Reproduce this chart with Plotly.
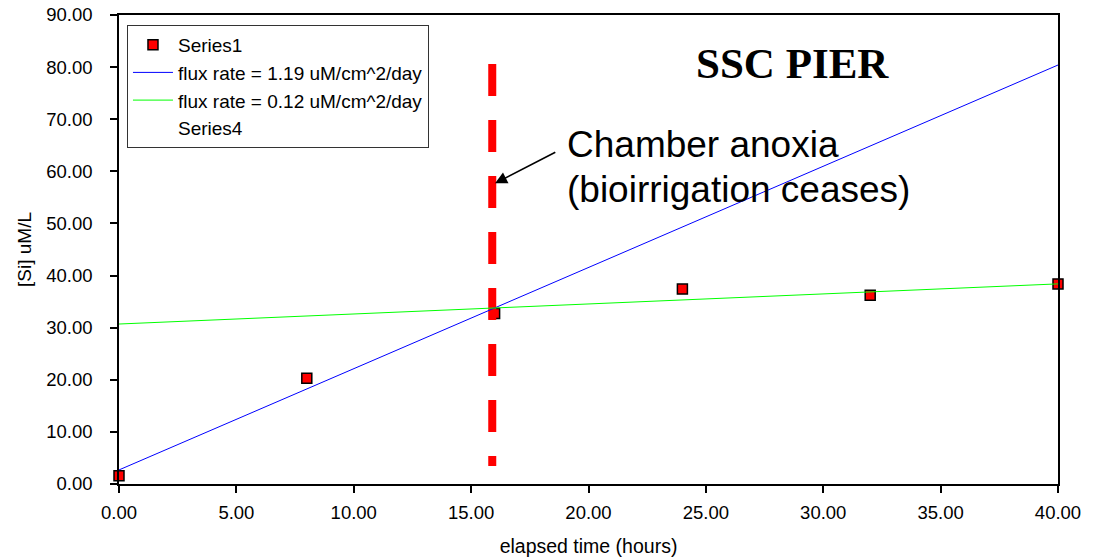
import plotly.graph_objects as go

# Data
time_h = [0, 8, 16, 24, 32, 40]
si_um = [1.6, 20.3, 32.7, 37.4, 36.2, 38.4]

fit1_x = [0, 40]
fit1_y = [2.7, 80.4]
fit2_x = [0, 40]
fit2_y = [30.7, 38.4]

anoxia_x = [15.9, 15.9]
anoxia_y = [80.6, 3.45]

x_ticks = [0, 5, 10, 15, 20, 25, 30, 35, 40]
y_ticks = [0, 10, 20, 30, 40, 50, 60, 70, 80, 90]

FONT = "Liberation Sans, Arial, sans-serif"

fig = go.Figure()

fig.add_trace(go.Scatter(
    x=time_h, y=si_um, mode="markers", name="Series1",
    marker=dict(symbol="square", size=10, color="#FF0000",
                line=dict(color="black", width=1.5)),
    cliponaxis=False, legendrank=1))

fig.add_trace(go.Scatter(
    x=anoxia_x, y=anoxia_y, mode="lines", showlegend=False,
    line=dict(color="#FF0000", width=8, dash="32px,24px"),
    hoverinfo="skip"))

fig.add_trace(go.Scatter(
    x=fit1_x, y=fit1_y, mode="lines", name="flux rate = 1.19 uM/cm^2/day",
    line=dict(color="#0000FF", width=1), legendrank=2))

fig.add_trace(go.Scatter(
    x=fit2_x, y=fit2_y, mode="lines", name="flux rate = 0.12 uM/cm^2/day",
    line=dict(color="#00FF00", width=1), legendrank=3))

fig.add_trace(go.Scatter(
    x=[None], y=[None], mode="markers", name="Series4",
    marker=dict(color="rgba(0,0,0,0)", size=1), legendrank=4))

fig.update_layout(
    width=1097, height=557,
    margin=dict(l=119, r=39, t=15, b=73),
    paper_bgcolor="white", plot_bgcolor="white",
    font=dict(family=FONT, size=18, color="black"),
    showlegend=True,
    legend=dict(
        x=0.0085, y=0.979, xanchor="left", yanchor="top",
        bordercolor="#333333", borderwidth=1, bgcolor="white",
        font=dict(family=FONT, size=19, color="black"),
        itemwidth=40, tracegroupgap=0),
    xaxis=dict(
        range=[0, 40], tickvals=x_ticks,
        ticktext=[f"{v:.2f}" for v in x_ticks],
        showgrid=False, zeroline=False, automargin=False,
        showline=True, linecolor="black", linewidth=1.5, mirror=True,
        ticks="outside", ticklen=7, tickcolor="black", tickwidth=1.5,
        ticklabelstandoff=4,
        title=dict(text="elapsed time (hours)", font=dict(size=19.5), standoff=20),
        tickfont=dict(size=18.5)),
    yaxis=dict(
        range=[0, 90], tickvals=y_ticks,
        ticktext=[f"{v:.2f}" for v in y_ticks],
        showgrid=False, zeroline=False, automargin=False,
        showline=True, linecolor="black", linewidth=1.5, mirror=True,
        ticks="outside", ticklen=7, tickcolor="black", tickwidth=1.5,
        ticklabelstandoff=14,
        title=dict(text="[Si] uM/L", font=dict(size=19), standoff=10),
        tickfont=dict(size=18.5)),
    annotations=[
        dict(x=28.7, y=80.7, xref="x", yref="y", text="<b>SSC PIER</b>",
             showarrow=False, xanchor="center", yanchor="middle",
             font=dict(family="Liberation Serif, Times New Roman, serif",
                       size=43, color="black")),
        dict(x=19.0, y=65.1, xref="x", yref="y",
             text="Chamber anoxia",
             showarrow=False, xanchor="left", yanchor="middle", align="left",
             font=dict(family=FONT, size=37, color="black")),
        dict(x=19.0, y=56.5, xref="x", yref="y",
             text="(bioirrigation ceases)",
             showarrow=False, xanchor="left", yanchor="middle", align="left",
             font=dict(family=FONT, size=37, color="black")),
        dict(x=16.02, y=57.7, xref="x", yref="y", ax=18.65, ay=63.8,
             axref="x", ayref="y", text="", showarrow=True,
             arrowhead=2, arrowsize=1.5, arrowwidth=1.6, arrowcolor="black"),
    ],
)

fig.write_html("out.html")
